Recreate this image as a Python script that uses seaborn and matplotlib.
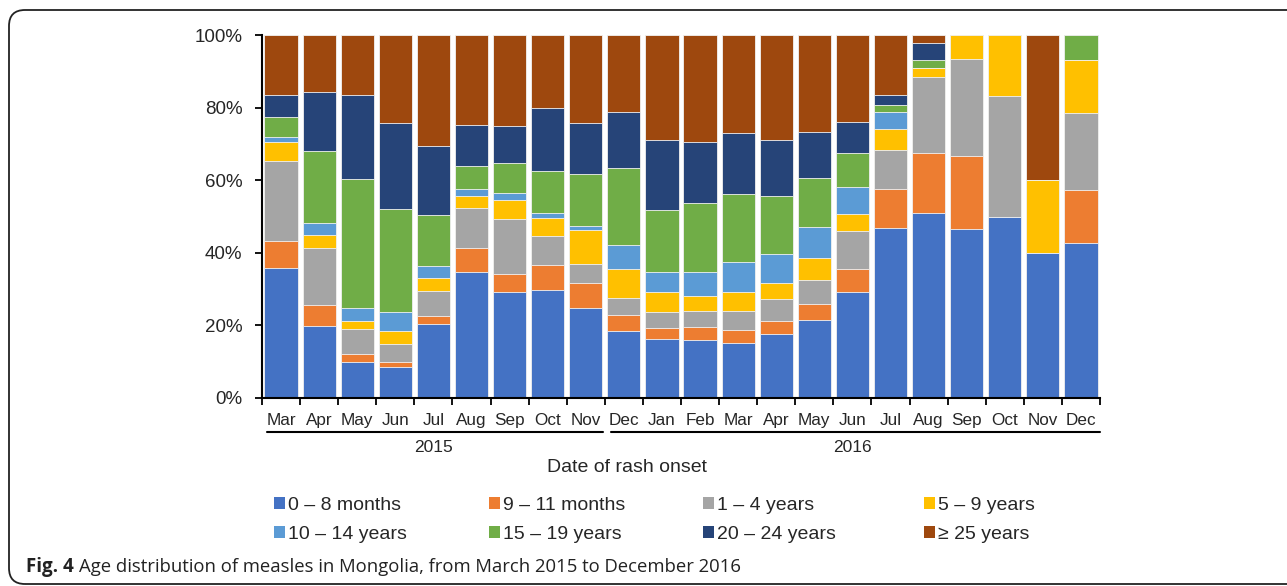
import numpy as np
import pandas as pd
import matplotlib
matplotlib.use("Agg")
import matplotlib.pyplot as plt
import matplotlib.transforms as mtransforms
from matplotlib.patches import FancyBboxPatch, Patch
from matplotlib.lines import Line2D
import seaborn as sns

# ---------------- data (percent of cases per month) ----------------
months = ["Mar", "Apr", "May", "Jun", "Jul", "Aug", "Sep", "Oct", "Nov",
          "Dec", "Jan", "Feb", "Mar", "Apr", "May", "Jun", "Jul", "Aug",
          "Sep", "Oct", "Nov", "Dec"]
years = ["2015", "2016"]
year_first_idx = [0, 9]
year_last_idx = [8, 21]

age_labels = ["0 \u2013 8 months", "9 \u2013 11 months", "1 \u2013 4 years", "5 \u2013 9 years",
              "10 \u2013 14 years", "15 \u2013 19 years", "20 \u2013 24 years", "\u2265 25 years"]

age0_8 = [35.8, 19.8, 9.8, 8.5, 20.3, 34.8, 29.2, 29.8, 24.7, 18.5, 16.2, 15.9, 15.2, 17.5, 21.4, 29.2, 46.8, 51.1, 46.6, 49.9, 39.9, 42.8]
age9_11 = [7.4, 5.9, 2.3, 1.4, 2.3, 6.5, 5.0, 6.9, 7.0, 4.5, 3.1, 3.7, 3.4, 3.6, 4.5, 6.3, 10.9, 16.3, 20.0, 0.0, 0.0, 14.4]
age1_4 = [22.1, 15.6, 6.9, 4.9, 7.0, 11.1, 15.2, 7.9, 5.3, 4.6, 4.3, 4.5, 5.5, 6.1, 6.5, 10.5, 10.7, 21.1, 26.8, 33.4, 0.0, 21.4]
age5_9 = [5.1, 3.5, 2.3, 3.6, 3.4, 3.2, 5.2, 4.9, 9.2, 8.0, 5.6, 4.0, 5.1, 4.4, 6.1, 4.8, 5.6, 2.3, 6.6, 16.7, 20.1, 14.4]
age10_14 = [1.6, 3.5, 3.5, 5.4, 3.5, 2.1, 2.0, 1.6, 1.3, 6.6, 5.6, 6.7, 8.2, 8.1, 8.6, 7.2, 4.7, 0.0, 0.0, 0.0, 0.0, 0.0]
age15_19 = [5.3, 19.8, 35.5, 28.4, 14.0, 6.1, 8.1, 11.5, 14.2, 21.1, 16.9, 18.9, 18.7, 16.0, 13.4, 9.4, 2.0, 2.3, 0.0, 0.0, 0.0, 7.0]
age20_24 = [6.3, 16.1, 23.3, 23.6, 19.0, 11.5, 10.1, 17.4, 14.0, 15.4, 19.5, 16.9, 16.8, 15.3, 12.7, 8.5, 2.9, 4.6, 0.0, 0.0, 0.0, 0.0]
age25p = [16.4, 15.8, 16.4, 24.2, 30.5, 24.7, 25.2, 20.0, 24.3, 21.3, 28.8, 29.4, 27.1, 29.0, 26.8, 24.1, 16.4, 2.3, 0.0, 0.0, 40.0, 0.0]

colors = ["#4472C4", "#ED7D31", "#A5A5A5", "#FFC000",
          "#5B9BD5", "#70AD47", "#264478", "#9E480E"]

# ---------------- figure ----------------
sns.set_style("ticks")
plt.rcParams["font.family"] = ["Liberation Sans", "DejaVu Sans"]

W, H = 1287, 586
fig = plt.figure(figsize=(W / 100, H / 100), dpi=100)
ax = fig.add_axes([262 / W, 1 - 398 / H, (1100 - 262) / W, (398 - 35) / H])

series = [age0_8, age9_11, age1_4, age5_9, age10_14, age15_19, age20_24, age25p]
data = np.array(series, dtype=float)
cum = np.cumsum(data, axis=0) / data.sum(axis=0) * 100.0
keys = [f"{m}-{i:02d}" for i, m in enumerate(months)]

for k in range(len(series) - 1, -1, -1):
    df = pd.DataFrame({"month": keys, "pct": cum[k]})
    sns.barplot(data=df, x="month", y="pct", order=keys, color=colors[k],
                saturation=1, width=0.87, edgecolor="#f2f2f2", linewidth=0.6,
                errorbar=None, ax=ax)

ax.set_xlim(-0.5, len(months) - 0.5)
ax.set_ylim(0, 100)
ax.set_xlabel("")
ax.set_ylabel("")

ax.set_yticks(range(0, 101, 20))
ax.set_yticklabels([f"{v}%" for v in range(0, 101, 20)])
ax.set_xticks(np.arange(-0.5, len(months), 1.0))
ax.set_xticklabels([])
ax.set_xticks(np.arange(len(months)), minor=True)
ax.set_xticklabels(months, minor=True)

ax.tick_params(axis="x", which="minor", length=0, pad=11, labelsize=12.3)
ax.tick_params(axis="x", which="major", length=5, width=1.3, color="black")
ax.tick_params(axis="y", length=5, width=1.3, color="black", pad=9, labelsize=13.5)
sns.despine(ax=ax)
for s in ["left", "bottom"]:
    ax.spines[s].set_linewidth(1.5)
    ax.spines[s].set_color("black")

# year group lines and labels
trans = mtransforms.blended_transform_factory(ax.transData, ax.transAxes)
y_line = (398 - 432) / 363
y_year = (398 - 447) / 363
for yr, a, b in zip(years, year_first_idx, year_last_idx):
    x0 = a - 0.37 if a == 0 else a - 0.34
    x1 = b + 0.45 if b < len(months) - 1 else b + 0.5
    ax.add_line(Line2D([x0, x1], [y_line, y_line], transform=trans,
                       color="black", lw=1.5, clip_on=False))
    ax.text((a + b) / 2, y_year, yr, transform=trans, ha="center", va="center",
            fontsize=12.5)

fig.text(627 / W, 1 - 467 / H, "Date of rash onset", ha="center", va="center",
         fontsize=14)

# legend: four columns of two rows
col_x = [274, 489, 703, 924]
for c in range(4):
    hs = [Patch(facecolor=colors[c], edgecolor="none"),
          Patch(facecolor=colors[c + 4], edgecolor="none")]
    fig.legend(handles=hs, labels=[age_labels[c], age_labels[c + 4]],
               loc="center left", bbox_to_anchor=(col_x[c] / W, 1 - 520 / H),
               frameon=False, fontsize=14, handlelength=0.55, handleheight=0.55,
               handletextpad=0.15, labelspacing=0.62, borderpad=0,
               borderaxespad=0)

# caption
cap_y = 1 - 567 / H
cap_font = ["Open Sans", "DejaVu Sans"]
t1 = fig.text(26 / W, cap_y, "Fig. 4", fontsize=13.5, fontweight="bold",
              family=cap_font, va="center", color="#222222")
renderer = fig.canvas.get_renderer()
bb = t1.get_window_extent(renderer=renderer)
fig.text((bb.x1 + 5) / W, cap_y,
         "Age distribution of measles in Mongolia, from March 2015 to December 2016",
         fontsize=13.3, family=cap_font, va="center", color="#222222")

# rounded frame
frame = FancyBboxPatch((9, 2), 1320, 574, boxstyle="round,pad=0,rounding_size=16",
                       transform=None, fill=False, ec="#222222", lw=1.3)
fig.add_artist(frame)

fig.savefig("out.png", dpi=100)
